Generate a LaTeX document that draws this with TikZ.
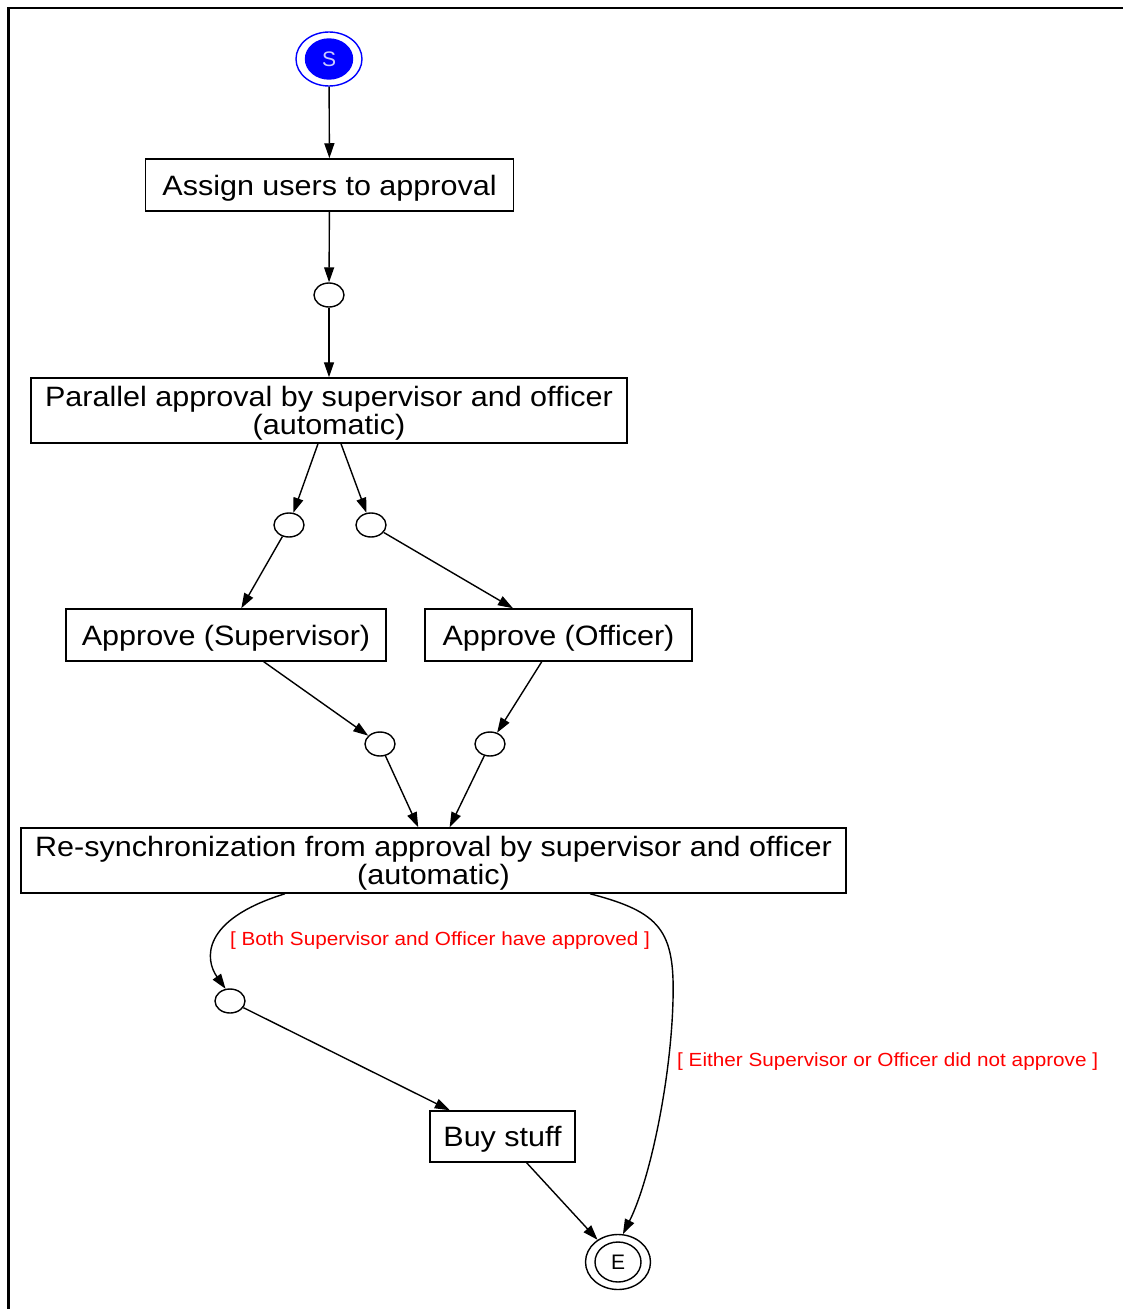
\documentclass[tikz,border=0pt]{standalone}
\usepackage{fontspec}
\setmainfont{Liberation Sans}
\newfontfamily\widesans[FakeStretch=1.09]{Liberation Sans}
\usetikzlibrary{arrows.meta,shapes.geometric}
\newcommand{\boxfont}{\widesans\fontsize{28}{28}\selectfont\lineskiplimit=-20pt\relax}
\newcommand{\guardfont}{\widesans\fontsize{19}{24}\selectfont}
\begin{document}
\begin{tikzpicture}[x=1pt,y=-1pt,
  box/.style={draw,line width=1.5pt,rectangle,inner sep=0pt,align=center,text depth=0pt,
    font=\boxfont},
  junction/.style={draw,line width=1.4pt,ellipse,inner sep=0pt,
    minimum width=30pt,minimum height=24pt},
  flow/.style={line width=1.4pt,-{Triangle[length=15pt,width=10pt]}},
  guard/.style={text=red,inner sep=0pt,font=\guardfont},
  endpoint/.style={ellipse,inner sep=0pt,line width=1.4pt,font=\fontsize{21}{24}\selectfont}
]
\useasboundingbox (0,0) rectangle (1122,1309);

% frame
\draw[line width=2.5pt] (8.5,1312) -- (8.5,8) -- (1125,8);

% start node
\node[endpoint,draw=blue,fill=blue,text=white!80!blue,minimum width=47pt,minimum height=40pt] (sin) at (329,59) {S};
\node[endpoint,draw=blue,minimum width=66pt,minimum height=54pt] (s) at (329,59) {};

% end node
\node[endpoint,draw,minimum width=46pt,minimum height=40pt] (ein) at (618,1262) {E};
\node[endpoint,draw,minimum width=65pt,minimum height=55pt] (e) at (618,1262) {};

% activities
\node[box,minimum width=368pt,minimum height=52pt] (assign) at (329.5,185) {Assign users to approval};
\node[box,minimum width=596pt,minimum height=65pt] (par) at (329,410.5) {Parallel approval by supervisor and officer\\(automatic)};
\node[box,minimum width=320pt,minimum height=52pt] (sup) at (226,635) {Approve (Supervisor)};
\node[box,minimum width=267pt,minimum height=52pt] (off) at (558.5,635) {Approve (Officer)};
\node[box,minimum width=825pt,minimum height=65pt] (res) at (433.5,860.5) {Re-synchronization from approval by supervisor and officer\\(automatic)};
\node[box,minimum width=145pt,minimum height=51pt] (buy) at (502.5,1136.5) {Buy stuff};

% junctions
\node[junction] (c1) at (329,295) {};
\node[junction] (c2) at (289,525) {};
\node[junction] (c3) at (371,525) {};
\node[junction] (c4) at (380,744) {};
\node[junction] (c5) at (490,744) {};
\node[junction] (c6) at (230,1001) {};

% transitions
\draw[flow] (s) -- (assign);
\draw[flow] (assign) -- (c1);
\draw[flow] (c1) -- (par);
\draw[flow] ([xshift=-11pt]par.south) -- (c2);
\draw[flow] ([xshift=12pt]par.south) -- (c3);
\draw[flow] (c2) -- (sup);
\draw[flow] (c3) -- (off);
\draw[flow] (sup) -- (c4);
\draw[flow] (off) -- (c5);
\draw[flow] (c4) -- (res);
\draw[flow] (c5) -- (res);
\draw[flow] ([xshift=-148.5pt]res.south) .. controls (200,920) and (205,960) .. (c6.110);
\draw[flow] (c6) -- (buy);
\draw[flow] (buy) -- (e);
\draw[flow] ([xshift=156.5pt]res.south) .. controls (660,912) and (675,930) .. (673,1000)
  .. controls (671,1080) and (650,1180) .. (e.80);

% guards
\node[guard] (g1) at (440,941) {[ Both Supervisor and Officer have approved ]};
\node[guard,anchor=west] (g2) at (677,1062) {[ Either Supervisor or Officer did not approve ]};
\end{tikzpicture}
\end{document}
